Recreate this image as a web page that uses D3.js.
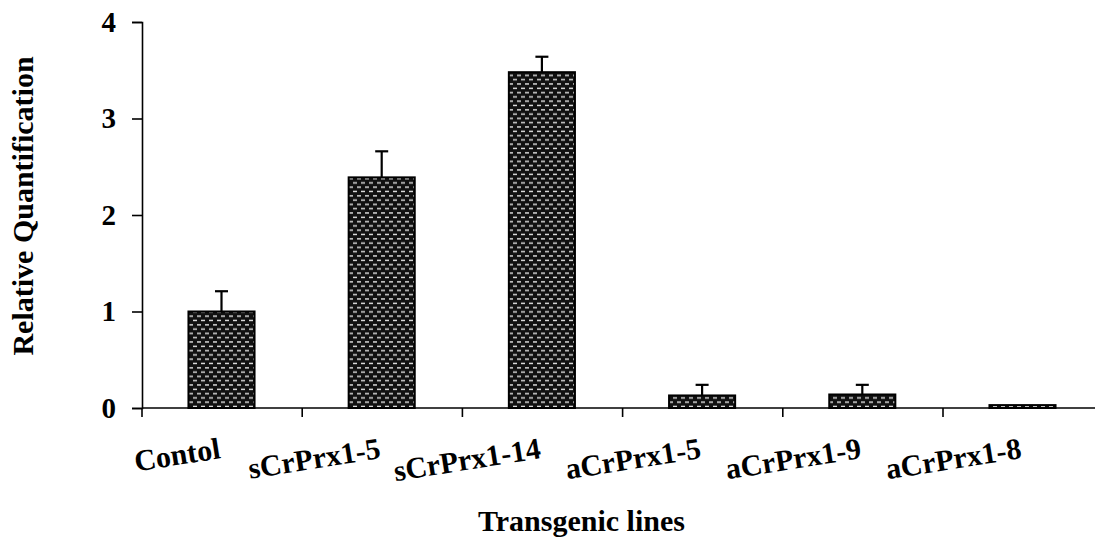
<!DOCTYPE html>
<html>
<head>
<meta charset="utf-8">
<script src="https://cdn.jsdelivr.net/npm/d3@7"></script>
<style>
  html, body { margin: 0; padding: 0; background: #fff; }
  svg { display: block; }
  text { font-family: "Liberation Serif", "Times New Roman", serif; font-weight: bold; fill: #000; }
</style>
</head>
<body>
<svg id="chart" width="1095" height="538"></svg>
<script>
// Relative quantification of CrPrx1 expression in transgenic lines
const categories = ["Contol", "sCrPrx1-5", "sCrPrx1-14", "aCrPrx1-5", "aCrPrx1-9", "aCrPrx1-8"];
const values     = [1.00, 2.39, 3.48, 0.13, 0.14, 0.03];
const errors     = [0.21, 0.27, 0.16, 0.11, 0.10, 0.00];
const yTicks     = [0, 1, 2, 3, 4];

(function () {
const svg = d3.select("#chart");
const plotLeft = 142, plotRight = 1102, plotTop = 22, plotBottom = 408;

const x = d3.scaleBand().domain(categories).range([plotLeft, plotRight]).paddingInner(0.5875).paddingOuter(0.29);
const y = d3.scaleLinear().domain([0, 4]).range([plotBottom, plotTop]);

// stippled fill: dark ground with staggered light dashes
const defs = svg.append("defs");
const pat = defs.append("pattern").attr("id", "stipple")
  .attr("patternUnits", "userSpaceOnUse").attr("width", 8).attr("height", 8.6);
pat.append("rect").attr("width", 8).attr("height", 8.6).attr("fill", "#111");
pat.append("rect").attr("x", 1).attr("y", 1.6).attr("width", 4).attr("height", 1.4).attr("fill", "#e6e6e6");
pat.append("rect").attr("x", 5).attr("y", 5.9).attr("width", 4).attr("height", 1.4).attr("fill", "#e6e6e6");
pat.append("rect").attr("x", -3).attr("y", 5.9).attr("width", 4).attr("height", 1.4).attr("fill", "#e6e6e6");

// bars
svg.append("g").selectAll("rect").data(categories).join("rect")
  .attr("x", d => x(d))
  .attr("y", (d, i) => y(values[i]))
  .attr("width", x.bandwidth())
  .attr("height", (d, i) => y(0) - y(values[i]))
  .attr("fill", "url(#stipple)")
  .attr("stroke", "#000")
  .attr("stroke-width", 2);

// error bars (upper half)
const eb = svg.append("g").attr("stroke", "#000").attr("stroke-width", 2.2);
categories.forEach((c, i) => {
  if (errors[i] <= 0) return;
  const cx = x(c) + x.bandwidth() / 2;
  eb.append("line").attr("x1", cx).attr("x2", cx).attr("y1", y(values[i])).attr("y2", y(values[i] + errors[i]));
  eb.append("line").attr("x1", cx - 6.5).attr("x2", cx + 6.5).attr("y1", y(values[i] + errors[i])).attr("y2", y(values[i] + errors[i]));
});

// y axis
const yAxis = svg.append("g").attr("transform", `translate(${plotLeft},0)`)
  .call(d3.axisLeft(y).tickValues(yTicks).tickFormat(d3.format("d")).tickSize(10).tickPadding(16));
yAxis.select(".domain").attr("stroke-width", 1.6);
yAxis.selectAll(".tick line").attr("stroke-width", 1.6);
yAxis.selectAll("text").style("font-size", "29px").style("font-family", "Liberation Serif").style("font-weight", "bold");

// x axis line with boundary ticks
const xg = svg.append("g");
xg.append("line").attr("x1", plotLeft).attr("x2", 1095).attr("y1", plotBottom).attr("y2", plotBottom)
  .attr("stroke", "#000").attr("stroke-width", 1.6);
const step = x.step();
d3.range(categories.length).forEach(i => {
  const bx = plotLeft + i * step;
  xg.append("line").attr("x1", bx).attr("x2", bx).attr("y1", plotBottom).attr("y2", plotBottom + 9)
    .attr("stroke", "#000").attr("stroke-width", 1.6);
});

// category labels, tilted, ending under each bar's centre
svg.append("g").selectAll("text").data(categories).join("text")
  .attr("transform", d => `translate(${x(d) + x.bandwidth() / 2},458) rotate(-9)`)
  .attr("text-anchor", "end")
  .style("font-size", "30px")
  .text(d => d);

// axis titles
svg.append("text")
  .attr("transform", "translate(33,206) rotate(-90)")
  .attr("text-anchor", "middle")
  .style("font-size", "30px")
  .text("Relative Quantification");

svg.append("text")
  .attr("x", 478).attr("y", 531)
  .attr("text-anchor", "start")
  .style("font-size", "30px")
  .text("Transgenic lines");
})();
</script>
</body>
</html>
